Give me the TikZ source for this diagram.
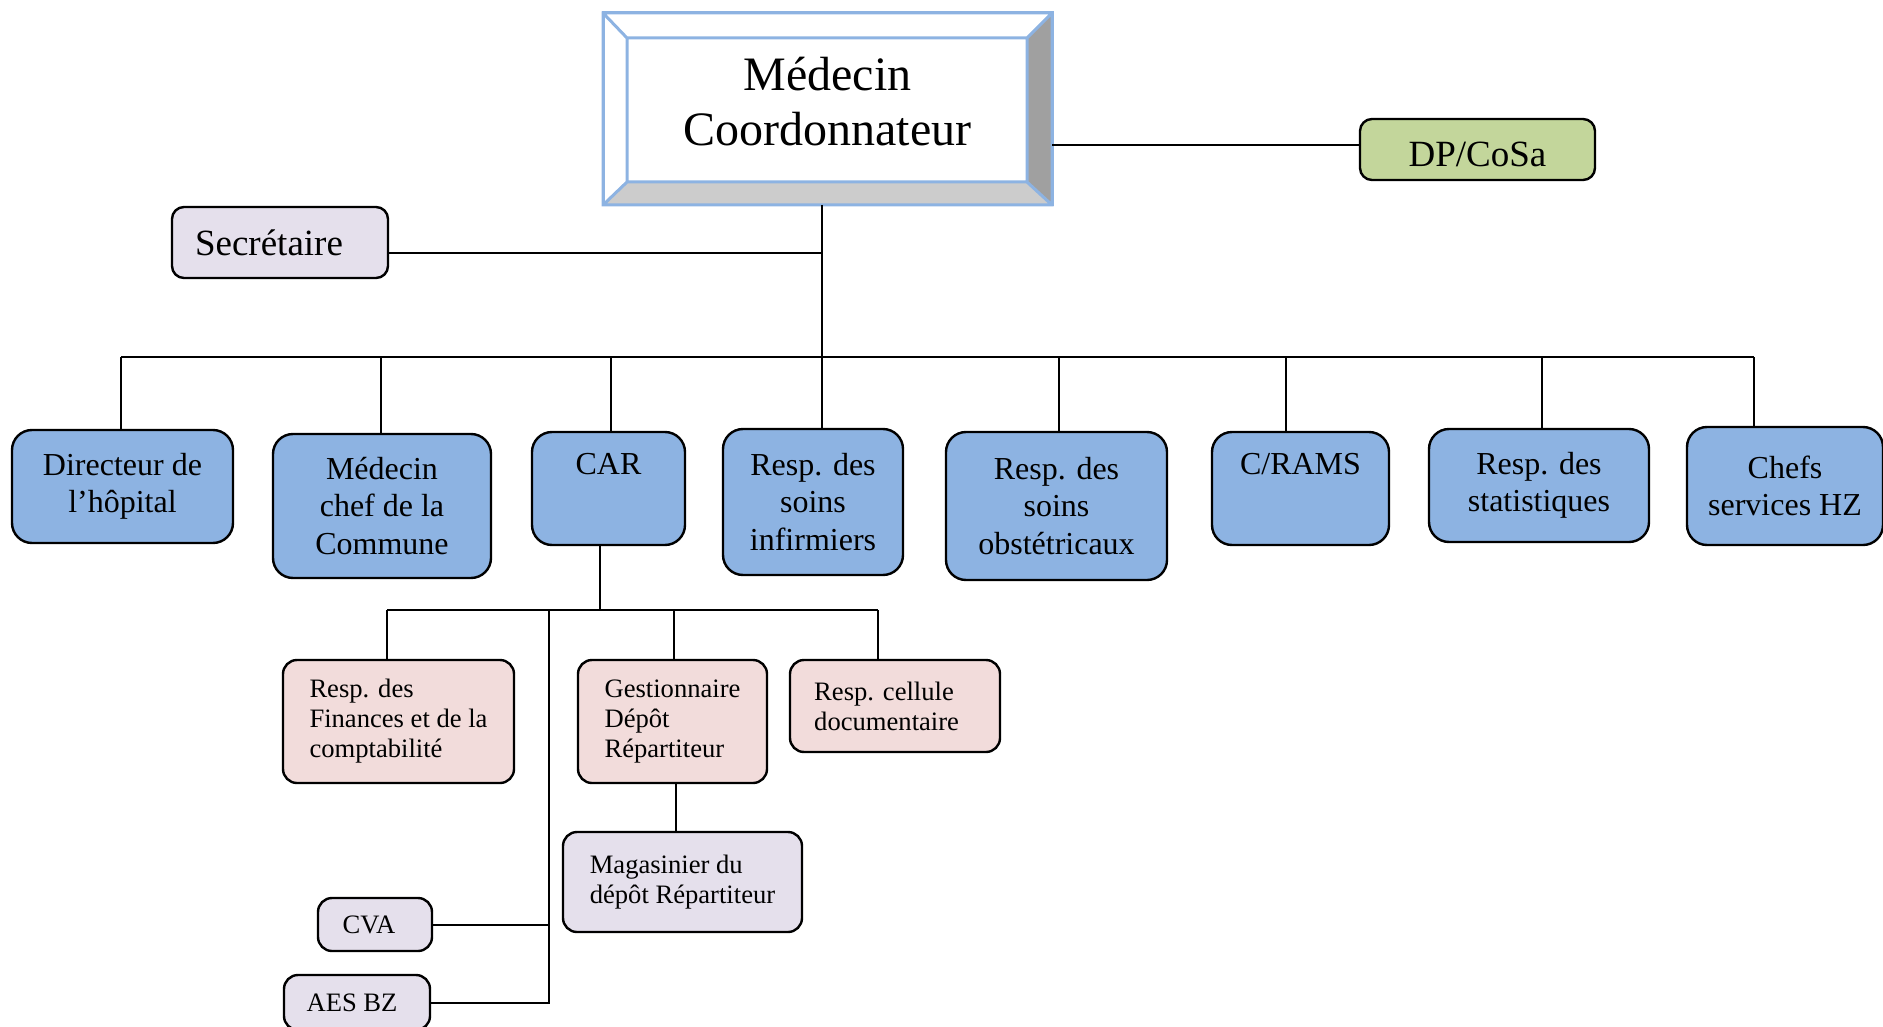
\documentclass[tikz,border=0pt]{standalone}
\usepackage{fontspec}
\setmainfont{Liberation Serif}
\usepackage{tikz}

\definecolor{rowblue}{HTML}{8DB3E2}
\definecolor{subpink}{HTML}{F2DCDB}
\definecolor{lilac}{HTML}{E5E0EC}
\definecolor{leafgreen}{HTML}{C3D69B}
\definecolor{bevblue}{HTML}{8DB3E2}
\definecolor{bevdark}{HTML}{A0A0A0}
\definecolor{bevlight}{HTML}{CCCCCC}

\tikzset{
  boxsize/.style 2 args={minimum width=#1*0.5pt, minimum height=#2*0.5pt},
  box/.style={draw, line width=1.2pt, inner sep=0pt, outer sep=0pt, align=center},
  rowbox/.style={box, fill=rowblue, rounded corners=10pt, font=\fontsize{16}{18.6}\selectfont},
  subbox/.style={box, fill=subpink, rounded corners=7pt, align=left, font=\fontsize{13.3}{15}\selectfont},
  lilacbox/.style={subbox, fill=lilac},
  coordbox/.style={draw=bevblue, line width=1.5pt, inner sep=0pt, outer sep=0pt, align=center,
    font=\fontsize{24}{27.6}\selectfont},
  link/.style={line width=1pt},
}

\begin{document}
\begin{tikzpicture}[x=0.5pt, y=-0.5pt]
  \useasboundingbox (0,0) rectangle (1883,1027);

  % top of the chart
  \node[coordbox, boxsize={449}{192}] (coord) at (827.5,109) {Médecin\\Coordonnateur\rule[-7.5pt]{0pt}{0pt}};
  \coordinate (bvA) at ([shift={(12pt,-12.5pt)}]coord.north west);
  \coordinate (bvB) at ([shift={(-12.5pt,11.5pt)}]coord.south east);
  \fill[bevdark] (coord.north east) -- (bvA -| bvB) -- (bvB) -- (coord.south east) -- cycle;
  \fill[bevlight] (coord.south west) -- (bvA |- bvB) -- (bvB) -- (coord.south east) -- cycle;
  \draw[bevblue, line width=1.5pt] (bvA) rectangle (bvB)
    (coord.north west) -- (bvA) (coord.north east) -- (bvA -| bvB)
    (coord.south east) -- (bvB) (coord.south west) -- (bvA |- bvB)
    (coord.north west) rectangle (coord.south east);

  \node[box, fill=leafgreen, rounded corners=6pt, boxsize={235}{61},
        font=\fontsize{18.5}{21}\selectfont] (dp) at (1477.5,149.5) {\rule{0pt}{17pt}DP/CoSa};
  \node[box, fill=lilac, rounded corners=6pt, boxsize={216}{71},
        font=\fontsize{18.5}{21}\selectfont] (sec) at (280,242.5) {Secrétaire\kern11pt};

  \coordinate (hub) at (822,357);
  \draw[link] ([yshift=2pt]dp.west) -- ([yshift=2pt]dp.west -| coord.east);
  \draw[link] (coord.south -| hub) -- (hub);
  \draw[link] ([yshift=-5.25pt]sec.east) -- ([yshift=-5.25pt]sec.east -| hub);

  % first level
  \foreach \nm/\cx/\cy/\w/\h/\dx/\txt in {
    dir/122.5/486.5/221/113/-1.5/{Directeur de\\l’hôpital},
    mcc/382/506/218/144/-1/{Médecin\\chef de la\\Commune},
    car/608.5/488.5/153/113/2.5/{CAR\\\strut},
    inf/813/502/180/146/9/{Resp. des\\soins\\infirmiers},
    obs/1056.5/506/221/148/2.5/{Resp. des\\soins\\obstétricaux},
    crams/1300.5/488.5/177/113/-14.5/{C/RAMS\\\strut},
    stat/1539/485.5/220/113/3/{Resp. des\\statistiques},
    chefs/1785/486/196/118/-31/{Chefs\\services HZ}%
  } {
    \node[rowbox, boxsize={\w}{\h}] (\nm) at (\cx,\cy) {\txt};
    \draw[link] ([xshift=\dx*0.5pt]\nm.north |- hub) -- ([xshift=\dx*0.5pt]\nm.north);
  }
  \draw[link] ([xshift=-0.75pt]dir.north |- hub) -- ([xshift=-15.5pt]chefs.north |- hub);

  % under the CAR
  \node[subbox, boxsize={231}{123}] (fin) at (398.5,721.5) {Resp. des\\Finances et de la\\comptabilité};
  \node[subbox, boxsize={189}{123}] (gest) at (672.5,721.5) {Gestionnaire\\Dépôt\\Répartiteur};
  \node[subbox, boxsize={210}{92}] (doc) at (895,706) {Resp. cellule\\documentaire\kern8.4pt};
  \node[lilacbox, boxsize={239}{100}] (mag) at (682.5,882) {Magasinier du\\dépôt Répartiteur};
  \node[lilacbox, boxsize={114}{53}] (cva) at (375,924.5) {CVA\kern6pt};
  \node[lilacbox, boxsize={146}{55}] (aes) at (357,1002.5) {AES BZ\kern5pt};

  \coordinate (carhub) at (600,610);
  \coordinate (subtrunk) at (549,610);
  \draw[link] (car.south -| carhub) -- (carhub);
  \draw[link] ([xshift=-5.75pt]fin.north |- carhub) -- ([xshift=-8.5pt]doc.north |- carhub);
  \draw[link] ([xshift=-5.75pt]fin.north |- carhub) -- ([xshift=-5.75pt]fin.north);
  \draw[link] ([xshift=0.75pt]gest.north |- carhub) -- ([xshift=0.75pt]gest.north);
  \draw[link] ([xshift=-8.5pt]doc.north |- carhub) -- ([xshift=-8.5pt]doc.north);
  \draw[link] ([xshift=1.75pt]gest.south) -- ([xshift=1.75pt]gest.south |- mag.north);
  \draw[link] (subtrunk) |- (aes.east);
  \draw[link] (cva.east) -- (cva.east -| subtrunk);
\end{tikzpicture}
\end{document}
